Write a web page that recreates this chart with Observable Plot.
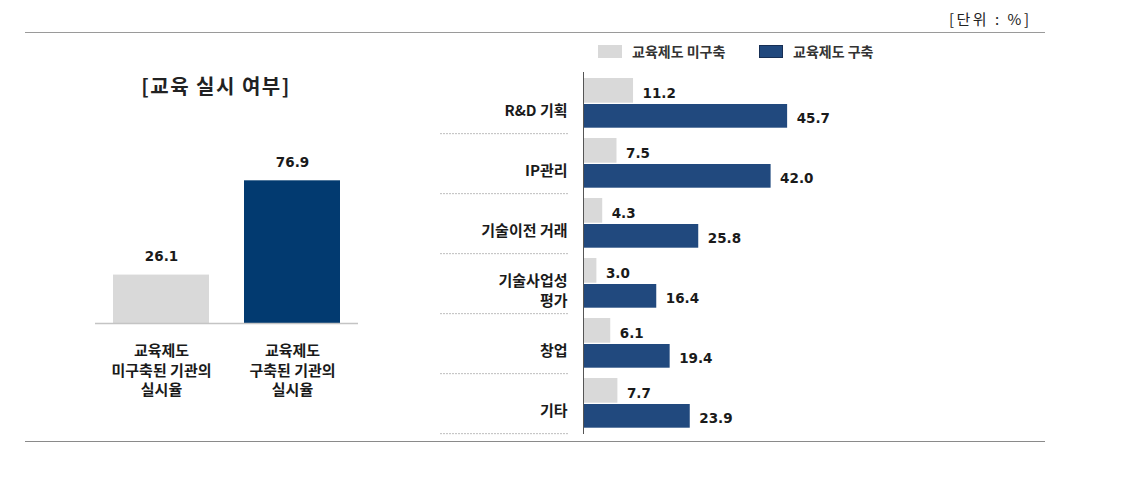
<!DOCTYPE html>
<html>
<head>
<meta charset="utf-8">
<script src="https://cdn.jsdelivr.net/npm/d3@7"></script>
<script src="https://cdn.jsdelivr.net/npm/@observablehq/plot@0.6"></script>
<style>
  html, body { margin: 0; padding: 0; background: #fff; }
  #wrap { position: relative; width: 1127px; height: 484px; overflow: hidden; font-family: "Noto Sans CJK KR", sans-serif; color: #1a1a1a; }
  .abs { position: absolute; }
  .rule { position: absolute; height: 0; border-top: 1px solid #9a9a9a; }
  #unit { left: 949px; top: 8px; font-size: 15px; color: #222; letter-spacing: 2.5px; white-space: pre; }
  #title { left: 86px; width: 260px; top: 71px; text-align: center; font-size: 20px; font-weight: bold; letter-spacing: 1.5px; color: #222; }
  .sw { position: absolute; width: 24px; height: 13px; }
  .lg { position: absolute; font-size: 14px; font-weight: bold; color: #333; line-height: 16px; }
</style>
</head>
<body>
<div id="wrap">
  <div id="unit" class="abs">[단위 : %]</div>
  <div class="rule" style="left:25px;top:32px;width:1020px;"></div>
  <div class="rule" style="left:25px;top:441px;width:1020px;border-top-color:#8a8a8a;"></div>
  <div id="title" class="abs">[교육 실시 여부]</div>
  <div id="legend"></div>
  <div id="left" class="abs" style="left:40px;top:130px;"></div>
  <div id="rlabels" class="abs" style="left:430px;top:60px;"></div>
  <div id="rbars" class="abs" style="left:570px;top:60px;"></div>
</div>
<script>
// ---- data ----
const seriesNames = ["교육제도 미구축", "교육제도 구축"];
const leftCats = ["교육제도\n미구축된 기관의\n실시율", "교육제도\n구축된 기관의\n실시율"];
const leftValues = [26.1, 76.9];
const rightCats = ["R&D 기획", "IP관리", "기술이전 거래", "기술사업성\n평가", "창업", "기타"];
const notBuilt = [11.2, 7.5, 4.3, 3.0, 6.1, 7.7];
const built = [45.7, 42.0, 25.8, 16.4, 19.4, 23.9];

const GRAY = "#d9d9d9";
const NAVY_L = "#023a70";
const NAVY_R = "#21497e";
const numFont = "DejaVu Sans";

// ---- legend ----
const legend = document.getElementById("legend");
const legendColors = [GRAY, NAVY_R];
const legendX = [598, 759];
seriesNames.forEach((s, i) => {
  const sw = document.createElement("div");
  sw.className = "sw";
  sw.style.left = legendX[i] + "px";
  sw.style.top = "45px";
  sw.style.background = legendColors[i];
  if (i === 1) { sw.style.boxSizing = "border-box"; sw.style.border = "1px solid #172f55"; }
  legend.appendChild(sw);
  const t = document.createElement("div");
  t.className = "lg";
  t.style.left = (legendX[i] + 34) + "px";
  t.style.top = "43px";
  t.textContent = s;
  legend.appendChild(t);
});

// ---- left chart ----
const leftData = leftCats.map((c, i) => ({cat: c, value: leftValues[i], series: seriesNames[i]}));
const leftPlot = Plot.plot({
  width: 360,
  height: 290,
  marginLeft: 55,
  marginRight: 42,
  marginTop: 26,
  marginBottom: 97,
  x: {domain: leftCats, paddingInner: 0.27, paddingOuter: 0.135, axis: null},
  y: {domain: [0, 90], axis: null},
  color: {domain: seriesNames, range: [GRAY, NAVY_L]},
  marks: [
    Plot.barY(leftData, {x: "cat", y: "value", fill: "series"}),
    Plot.ruleY([0], {stroke: "#c4c4c4", strokeWidth: 1.5}),
    Plot.text(leftData, {x: "cat", y: "value", text: d => d.value.toFixed(1), dy: -18,
      fontSize: 13.5, fontWeight: "bold", fontFamily: numFont, fill: "#1a1a1a"}),
    Plot.text(leftData, {x: "cat", text: "cat", frameAnchor: "bottom", lineAnchor: "top", dy: 19,
      fontSize: 15, fontWeight: "bold", lineHeight: 1.3, fill: "#1a1a1a", fontFamily: "Noto Sans CJK KR"})
  ]
});
document.getElementById("left").appendChild(leftPlot);

// ---- right chart ----
const rows = rightCats.map((c, i) => ({cat: c, notBuilt: notBuilt[i], built: built[i]}));
const yBand = {type: "band", domain: rightCats, padding: 0, axis: null};
const RH = 390, RMT = 12, RMB = 16;
const step = (RH - RMT - RMB) / rightCats.length;

const labelsPlot = Plot.plot({
  width: 153,
  height: RH,
  marginLeft: 10,
  marginRight: 15,
  marginTop: RMT,
  marginBottom: RMB,
  y: yBand,
  marks: [
    Plot.ruleY(rightCats, {y: d => d, dy: step / 2, stroke: "#bdbdbd", strokeDasharray: "2,1"}),
    Plot.text(rows, {y: "cat", text: "cat", frameAnchor: "right", textAnchor: "end", dx: -1, dy: 6,
      fontSize: 15, fontWeight: "bold", lineHeight: 1.3, fill: "#1a1a1a", fontFamily: "Noto Sans CJK KR"})
  ]
});
document.getElementById("rlabels").appendChild(labelsPlot);

const barsPlot = Plot.plot({
  width: 300,
  height: RH,
  marginLeft: 13,
  marginRight: 19,
  marginTop: RMT,
  marginBottom: RMB,
  x: {domain: [0, 60], axis: null},
  y: yBand,
  color: {domain: seriesNames, range: [GRAY, NAVY_R]},
  marks: [
    Plot.barX(rows, {x: "notBuilt", y: "cat", fill: () => seriesNames[0], insetTop: 5, insetBottom: 30.3}),
    Plot.barX(rows, {x: "built", y: "cat", fill: () => seriesNames[1], insetTop: 31, insetBottom: 5.3}),
    Plot.ruleX([0], {stroke: "#555", strokeWidth: 1}),
    Plot.text(rows, {x: "notBuilt", y: "cat", text: d => d.notBuilt.toFixed(1), dx: 9, dy: -10, textAnchor: "start",
      fontSize: 13.5, fontWeight: "bold", fontFamily: numFont, fill: "#1a1a1a"}),
    Plot.text(rows, {x: "built", y: "cat", text: d => d.built.toFixed(1), dx: 9, dy: 15, textAnchor: "start",
      fontSize: 13.5, fontWeight: "bold", fontFamily: numFont, fill: "#1a1a1a"})
  ]
});
document.getElementById("rbars").appendChild(barsPlot);
</script>
</body>
</html>
